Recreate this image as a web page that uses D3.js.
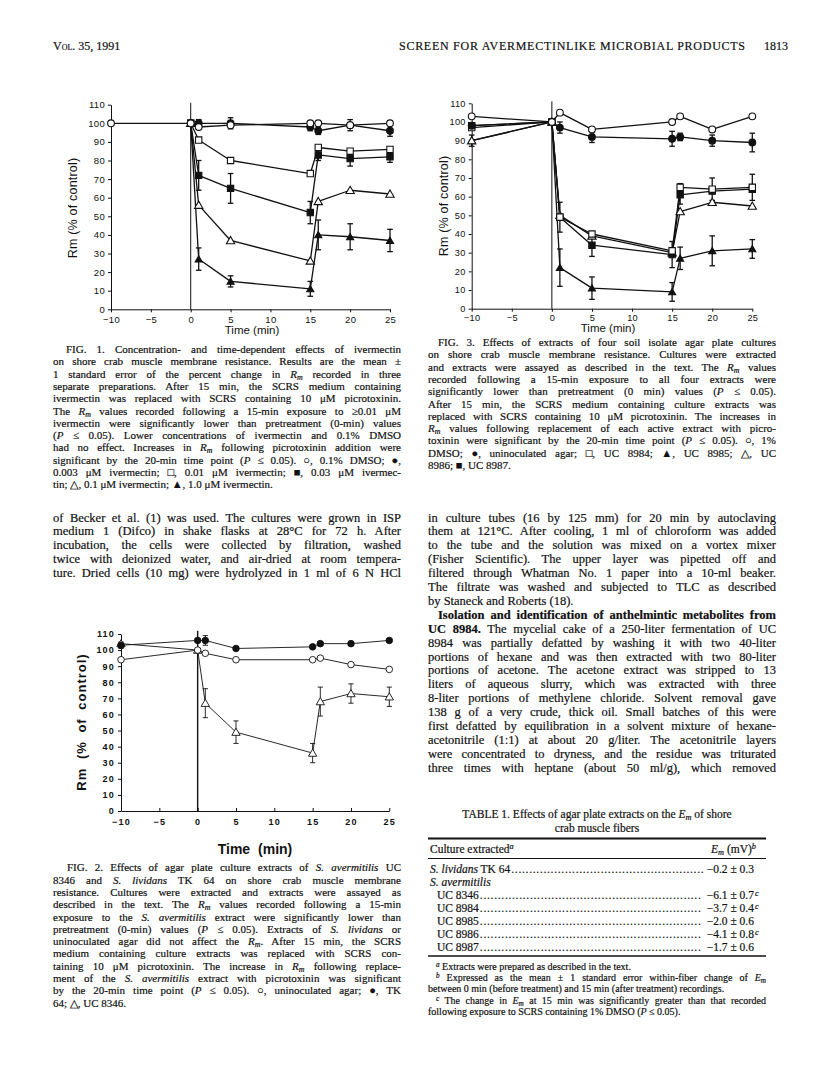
<!DOCTYPE html>
<html>
<head>
<meta charset="utf-8">
<script src="https://cdn.jsdelivr.net/npm/d3@7"></script>
<style>
body { margin: 0; background: #fff; }
#page { position: relative; width: 816px; height: 1081px; overflow: hidden; background: #fff; }
#page svg { position: absolute; left: 0; top: 0; }
.ln { position: absolute; white-space: nowrap; font-family: "Liberation Serif", "Times New Roman", serif;
      color: #111; -webkit-text-stroke: 0.2px #111; }
.hd { font-size: 12px; line-height: 14px; }
.cap { font-size: 11px; line-height: 12px; }
.bd { font-size: 12.5px; line-height: 13px; }
.tb { font-size: 11.5px; line-height: 12px; }
.fn { font-size: 10px; line-height: 11px; }
.ln sub { font-size: 0.72em; vertical-align: -0.25em; line-height: 0; }
.ln sup { font-size: 0.72em; vertical-align: 0.45em; line-height: 0; }
</style>
</head>
<body>
<div id="page"></div>
<script>
// time points (min) and axis ticks
var timeAll = [-10, 0, 1, 5, 15, 16, 20, 25];
var timeFrom0 = [0, 1, 5, 15, 16, 20, 25];
var xTicks = [-10, -5, 0, 5, 10, 15, 20, 25];
var yTicks = [0, 10, 20, 30, 40, 50, 60, 70, 80, 90, 100, 110];

// FIG. 1 - ivermectin, Rm (% of control)
var f1Dmso = [100, 100, 98, 99, 100, 100, 99, 100];
var f1DmsoErr = [0, 0, 0, 0, 0, 0, 3, 0];
var f1Iv0003 = [100, 100, 100, 98, 96, 99, 96];
var f1Iv0003Err = [0, 2, 3, 2, 2, 0, 3];
var f1Iv001 = [100, 91, 80, 73, 87, 85, 86];
var f1Iv003 = [100, 72, 65, 52, 83, 81, 82];
var f1Iv003Err = [0, 8, 8, 6, 3, 4, 3];
var f1Iv01 = [100, 56, 37, 26, 58, 64, 62];
var f1Iv1 = [100, 27, 15, 11, 40, 39, 37];
var f1Iv1Err = [0, 6, 3, 4, 8, 7, 6];

// FIG. 2 - S. avermitilis / S. lividans extracts
var f2Agar = [94, 100, 98, 94, 94, 95, 91, 88];
var f2Tk64 = [103, 106, 106, 101, 102, 104, 104, 106];
var f2Tk64Err = [2, 0, 3, 0, 0, 0, 0, 0];
var f2Uc8346 = [104, 100, 67, 49, 36, 68, 73, 71];
var f2Uc8346Err = [0, 0, 9, 7, 6, 9, 6, 6];

// FIG. 3 - soil isolate extracts
var f3Dmso = [103, 100, 105, 96, 100, 103, 96, 103];
var f3Agar = [98, 100, 97, 92, 91, 92, 90, 89];
var f3AgarErr = [0, 0, 3, 3, 4, 2, 3, 5];
var f3Uc8984 = [97, 100, 49, 40, 31, 65, 64, 65];
var f3Uc8984Err = [0, 0, 8, 0, 0, 2, 6, 7];
var f3Uc8987 = [98, 100, 49, 34, 29, 61, 63, 64];
var f3Uc8987Err = [0, 0, 0, 6, 7, 5, 0, 0];
var f3Uc8986 = [90, 100, 50, 39, 30, 52, 57, 55];
var f3Uc8985 = [90, 100, 22, 11, 9, 27, 31, 32];
var f3Uc8985Err = [3, 0, 10, 6, 5, 6, 8, 5];

// TABLE 1 - Em (mV)
var cultures = ["<i>S. lividans</i> TK 64", "<i>S. avermitilis</i>", "UC 8346", "UC 8984", "UC 8985", "UC 8986", "UC 8987"];
var emMean = [-0.2, null, -6.1, -3.7, -2.0, -4.1, -1.7];
var emSe = [0.3, null, 0.7, 0.4, 0.6, 0.8, 0.6];
var emSig = [false, false, true, true, false, true, false];

var RM = "<i>R<sub>m</sub></i>";
var EM = "<i>E<sub>m</sub></i>";

var page = d3.select("#page");
var svg = page.append("svg").attr("width", 816).attr("height", 1081);

// one line of text centred on y, optionally justified to width w
function line(x, y, w, html, cls, mode) {
  var d = page.append("div").attr("class", "ln " + cls).html(html)
      .style("left", x + "px");
  var node = d.node();
  var lh = parseFloat(getComputedStyle(node).lineHeight);
  d.style("top", (y - lh / 2) + "px");
  if (w) {
    var nat = node.getBoundingClientRect().width;
    if (mode === "letter") {
      var n = node.textContent.length - 1;
      d.style("letter-spacing", ((w - nat) / n) + "px");
    } else {
      var sp = (node.textContent.match(/ /g) || []).length;
      if (sp) d.style("word-spacing", ((w - nat) / sp) + "px");
    }
  }
  return d;
}
function widthOf(d) { return d.node().getBoundingClientRect().width; }

// block of lines, last line left ragged unless justifyLast
function block(x, y0, w, step, lines, cls, opts) {
  opts = opts || {};
  lines.forEach(function(l, i) {
    var last = i === lines.length - 1 && !opts.justifyLast;
    var ind = (i === 0 && opts.indent) ? opts.indent : 0;
    line(x + ind, y0 + i * step, last ? null : w - ind, l, cls);
  });
}

// Rm vs time chart
function rmChart(cfg, series) {
  var x = d3.scaleLinear().domain([-10, 25]).range([cfg.left, cfg.right]);
  var y = d3.scaleLinear().domain([0, 110]).range([cfg.bottom, cfg.top]);
  var g = svg.append("g");

  var xAxis = g.append("g")
      .attr("transform", "translate(0," + cfg.bottom + ")")
      .call(d3.axisBottom(x).tickValues(xTicks).tickSizeInner(cfg.xTick).tickSizeOuter(0)
        .tickPadding(cfg.xPad).tickFormat(function(d) { return d < 0 ? "\u2212" + (-d) : d; }));
  var yAxis = g.append("g")
      .attr("transform", "translate(" + cfg.left + ",0)")
      .call(d3.axisLeft(y).tickValues(yTicks).tickSizeInner(cfg.yTick).tickSizeOuter(0)
        .tickPadding(cfg.yPad));
  [xAxis, yAxis].forEach(function(a) {
    a.select(".domain").attr("stroke", "#111").attr("stroke-width", cfg.axisW);
    a.selectAll(".tick line").attr("stroke", "#111").attr("stroke-width", cfg.axisW);
    a.selectAll("text").attr("fill", "#111")
      .style("font-family", "'Liberation Sans', Arial, sans-serif")
      .style("font-size", cfg.tickFont + "px")
      .style("font-weight", cfg.bold ? "bold" : "normal")
      .style("letter-spacing", cfg.tickSpacing + "px");
  });

  // line at time 0
  g.append("line")
      .attr("x1", x(0)).attr("x2", x(0))
      .attr("y1", y(0)).attr("y2", y(cfg.zeroTop))
      .attr("stroke", "#111").attr("stroke-width", cfg.zeroW);

  // axis titles
  g.append("text")
      .attr("transform", "translate(" + cfg.yTitleX + "," + cfg.yTitleY + ") rotate(-90)")
      .attr("text-anchor", "middle").attr("dy", "0.35em")
      .style("font-family", "'Liberation Sans', Arial, sans-serif")
      .style("font-size", cfg.yTitleFont + "px")
      .style("font-weight", cfg.bold ? "bold" : "normal")
      .style("letter-spacing", cfg.titleSpacing + "px")
      .style("word-spacing", cfg.titleWord + "px")
      .attr("fill", "#111")
      .text("Rm (% of control)");
  g.append("text")
      .attr("x", cfg.xTitleX).attr("y", cfg.xTitleY)
      .attr("text-anchor", "middle").attr("dy", "0.35em")
      .style("font-family", "'Liberation Sans', Arial, sans-serif")
      .style("font-size", cfg.xTitleFont + "px")
      .style("font-weight", cfg.bold ? "bold" : "normal")
      .style("word-spacing", cfg.titleWord + "px")
      .attr("fill", "#111")
      .text("Time (min)");

  var pts = series.map(function(s) {
    return s.v.map(function(v, i) { return {t: s.t[i], v: v, e: s.e ? s.e[i] : 0}; });
  });

  var path = d3.line().x(function(d) { return x(d.t); }).y(function(d) { return y(d.v); });
  series.forEach(function(s, k) {
    g.append("path").datum(pts[k])
        .attr("fill", "none").attr("stroke", "#111")
        .attr("stroke-width", cfg.lineW).attr("stroke-linejoin", "round")
        .attr("d", path);
  });

  // error bars
  series.forEach(function(s, k) {
    var eb = g.append("g").selectAll("g")
        .data(pts[k].filter(function(d) { return d.e > 0; }))
        .enter().append("g");
    eb.append("line")
        .attr("x1", function(d) { return x(d.t); }).attr("x2", function(d) { return x(d.t); })
        .attr("y1", function(d) { return y(d.v - d.e); }).attr("y2", function(d) { return y(d.v + d.e); })
        .attr("stroke", "#111").attr("stroke-width", cfg.lineW);
    [-1, 1].forEach(function(sg) {
      eb.append("line")
          .attr("x1", function(d) { return x(d.t) - cfg.cap; }).attr("x2", function(d) { return x(d.t) + cfg.cap; })
          .attr("y1", function(d) { return y(d.v + sg * d.e); }).attr("y2", function(d) { return y(d.v + sg * d.e); })
          .attr("stroke", "#111").attr("stroke-width", cfg.lineW);
    });
  });

  // markers
  var shapes = {circle: d3.symbolCircle, square: d3.symbolSquare, triangle: d3.symbolTriangle};
  series.forEach(function(s, k) {
    var sz = cfg.size[s.shape + (s.filled ? "F" : "")] || cfg.size[s.shape];
    g.append("g").selectAll("path")
        .data(pts[k])
        .enter().append("path")
        .attr("transform", function(d) { return "translate(" + x(d.t) + "," + (y(d.v) + (s.shape === "triangle" ? 0.8 : 0)) + ")"; })
        .attr("d", d3.symbol().type(shapes[s.shape]).size(sz))
        .attr("fill", s.filled ? "#111" : "#fff")
        .attr("stroke", "#111").attr("stroke-width", cfg.markW);
  });
}

var baseCfg = {
  xTick: 3, xPad: 4, yTick: 3, yPad: 3, axisW: 1, tickFont: 9.5, tickSpacing: 0.3, bold: false,
  zeroTop: 111, zeroW: 1, yTitleFont: 12.5, xTitleFont: 11.5, titleSpacing: 0.2, titleWord: 0,
  lineW: 1.3, markW: 1.1, cap: 2.8,
  size: {circle: 36, square: 40, triangle: 30, triangleF: 22}
};

// FIG. 1
rmChart(Object.assign({}, baseCfg, {
  left: 111, right: 390, top: 104.7, bottom: 309.3,
  yTitleX: 73, yTitleY: 208, xTitleX: 252, xTitleY: 330
}), [
  {t: timeFrom0, v: f1Iv1, e: f1Iv1Err, shape: "triangle", filled: true},
  {t: timeFrom0, v: f1Iv01, shape: "triangle", filled: false},
  {t: timeFrom0, v: f1Iv003, e: f1Iv003Err, shape: "square", filled: true},
  {t: timeFrom0, v: f1Iv001, shape: "square", filled: false},
  {t: timeFrom0, v: f1Iv0003, e: f1Iv0003Err, shape: "circle", filled: true},
  {t: timeAll, v: f1Dmso, e: f1DmsoErr, shape: "circle", filled: false}
]);

// FIG. 3
rmChart(Object.assign({}, baseCfg, {
  left: 471.7, right: 752.3, top: 103.3, bottom: 308.7, xPad: 3, yPad: 3,
  yTitleX: 444, yTitleY: 206, xTitleX: 608, xTitleY: 328, tickFont: 9.2
}), [
  {t: timeAll, v: f3Uc8985, e: f3Uc8985Err, shape: "triangle", filled: true},
  {t: timeAll, v: f3Uc8986, shape: "triangle", filled: false},
  {t: timeAll, v: f3Uc8987, e: f3Uc8987Err, shape: "square", filled: true},
  {t: timeAll, v: f3Uc8984, e: f3Uc8984Err, shape: "square", filled: false},
  {t: timeAll, v: f3Agar, e: f3AgarErr, shape: "circle", filled: true},
  {t: timeAll, v: f3Dmso, shape: "circle", filled: false}
]);

// FIG. 2
rmChart(Object.assign({}, baseCfg, {
  left: 121, right: 389.3, top: 634, bottom: 811,
  xTick: -3, xPad: 7.5, yTick: 3, yPad: 3, tickFont: 9, tickSpacing: 1.2, bold: true,
  zeroTop: 112, zeroW: 1.4, yTitleFont: 13, xTitleFont: 14, titleSpacing: 1, titleWord: 4,
  yTitleX: 81, yTitleY: 722, xTitleX: 255, xTitleY: 849,
  lineW: 0.9, markW: 0.9, cap: 2.6,
  size: {circle: 34, square: 36, triangle: 30}
}), [
  {t: timeAll, v: f2Uc8346, e: f2Uc8346Err, shape: "triangle", filled: false},
  {t: timeAll, v: f2Tk64, e: f2Tk64Err, shape: "circle", filled: true},
  {t: timeAll, v: f2Agar, shape: "circle", filled: false}
]);

// running head
line(53, 46, null, "<span style='font-variant:small-caps'>Vol.</span> 35, 1991", "hd");
line(399, 46, 346, "SCREEN FOR AVERMECTINLIKE MICROBIAL PRODUCTS", "hd", "letter");
line(764, 46, null, "1813", "hd");

var L0 = 53, LW = 348, R0 = 428, RW = 348, CAP = 12.3, BODY = 13.9;

block(L0, 349, LW, CAP, [
  "FIG. 1. Concentration- and time-dependent effects of ivermectin",
  "on shore crab muscle membrane resistance. Results are the mean \u00b1",
  "1 standard error of the percent change in " + RM + " recorded in three",
  "separate preparations. After 15 min, the SCRS medium containing",
  "ivermectin was replaced with SCRS containing 10 \u03bcM picrotoxinin.",
  "The " + RM + " values recorded following a 15-min exposure to \u22650.01 \u03bcM",
  "ivermectin were significantly lower than pretreatment (0-min) values",
  "(<i>P</i> \u2264 0.05). Lower concentrations of ivermectin and 0.1% DMSO",
  "had no effect. Increases in " + RM + " following picrotoxinin addition were",
  "significant by the 20-min time point (<i>P</i> \u2264 0.05). \u25cb, 0.1% DMSO; \u25cf,",
  "0.003 \u03bcM ivermectin; \u25a1, 0.01 \u03bcM ivermectin; \u25a0, 0.03 \u03bcM ivermec-",
  "tin; \u25b3, 0.1 \u03bcM ivermectin; \u25b2, 1.0 \u03bcM ivermectin."
], "cap", {indent: 13});

block(R0, 342, RW, CAP, [
  "FIG. 3. Effects of extracts of four soil isolate agar plate cultures",
  "on shore crab muscle membrane resistance. Cultures were extracted",
  "and extracts were assayed as described in the text. The " + RM + " values",
  "recorded following a 15-min exposure to all four extracts were",
  "significantly lower than pretreatment (0 min) values (<i>P</i> \u2264 0.05).",
  "After 15 min, the SCRS medium containing culture extracts was",
  "replaced with SCRS containing 10 \u03bcM picrotoxinin. The increases in",
  RM + " values following replacement of each active extract with picro-",
  "toxinin were significant by the 20-min time point (<i>P</i> \u2264 0.05). \u25cb, 1%",
  "DMSO; \u25cf, uninoculated agar; \u25a1, UC 8984; \u25b2, UC 8985; \u25b3, UC",
  "8986; \u25a0, UC 8987."
], "cap", {indent: 10});

block(L0, 518, LW, BODY, [
  "of Becker et al. (1) was used. The cultures were grown in ISP",
  "medium 1 (Difco) in shake flasks at 28\u00b0C for 72 h. After",
  "incubation, the cells were collected by filtration, washed",
  "twice with deionized water, and air-dried at room tempera-",
  "ture. Dried cells (10 mg) were hydrolyzed in 1 ml of 6 N HCl"
], "bd", {justifyLast: true});

var rightBody = [
  "in culture tubes (16 by 125 mm) for 20 min by autoclaving",
  "them at 121\u00b0C. After cooling, 1 ml of chloroform was added",
  "to the tube and the solution was mixed on a vortex mixer",
  "(Fisher Scientific). The upper layer was pipetted off and",
  "filtered through Whatman No. 1 paper into a 10-ml beaker.",
  "The filtrate was washed and subjected to TLC as described",
  "by Staneck and Roberts (18).",
  "<b>Isolation and identification of anthelmintic metabolites from</b>",
  "<b>UC 8984.</b> The mycelial cake of a 250-liter fermentation of UC",
  "8984 was partially defatted by washing it with two 40-liter",
  "portions of hexane and was then extracted with two 80-liter",
  "portions of acetone. The acetone extract was stripped to 13",
  "liters of aqueous slurry, which was extracted with three",
  "8-liter portions of methylene chloride. Solvent removal gave",
  "138 g of a very crude, thick oil. Small batches of this were",
  "first defatted by equilibration in a solvent mixture of hexane-",
  "acetonitrile (1:1) at about 20 g/liter. The acetonitrile layers",
  "were concentrated to dryness, and the residue was triturated",
  "three times with heptane (about 50 ml/g), which removed"
];
rightBody.forEach(function(l, i) {
  var ind = i === 7 ? 10 : 0;
  line(R0 + ind, 518 + i * BODY, i === 6 ? null : RW - ind, l, "bd");
});

block(L0, 867.3, LW, CAP, [
  "FIG. 2. Effects of agar plate culture extracts of <i>S. avermitilis</i> UC",
  "8346 and <i>S. lividans</i> TK 64 on shore crab muscle membrane",
  "resistance. Cultures were extracted and extracts were assayed as",
  "described in the text. The " + RM + " values recorded following a 15-min",
  "exposure to the <i>S. avermitilis</i> extract were significantly lower than",
  "pretreatment (0-min) values (<i>P</i> \u2264 0.05). Extracts of <i>S. lividans</i> or",
  "uninoculated agar did not affect the " + RM + ". After 15 min, the SCRS",
  "medium containing culture extracts was replaced with SCRS con-",
  "taining 10 \u03bcM picrotoxinin. The increase in " + RM + " following replace-",
  "ment of the <i>S. avermitilis</i> extract with picrotoxinin was significant",
  "by the 20-min time point (<i>P</i> \u2264 0.05). \u25cb, uninoculated agar; \u25cf, TK",
  "64; \u25b3, UC 8346."
], "cap", {indent: 14});

// TABLE 1
var T0 = 428, T1 = 766, TC = (T0 + T1) / 2;
[["TABLE 1. Effects of agar plate extracts on the " + EM + " of shore", 814],
 ["crab muscle fibers", 827.5]].forEach(function(t) {
  var d = line(0, t[1], null, t[0], "tb");
  d.style("left", (TC - widthOf(d) / 2) + "px");
});
svg.append("line").attr("x1", T0).attr("x2", T1).attr("y1", 838.5).attr("y2", 838.5)
    .attr("stroke", "#111").attr("stroke-width", 1.8);
line(T0 + 2, 849, null, "Culture extracted<sup><i>a</i></sup>", "tb");
var hdr = line(0, 849, null, EM + " (mV)<sup><i>b</i></sup>", "tb");
hdr.style("left", (T1 - 10 - widthOf(hdr)) + "px");
svg.append("line").attr("x1", T0).attr("x2", T1).attr("y1", 858.5).attr("y2", 858.5)
    .attr("stroke", "#111").attr("stroke-width", 1);

var rowY = d3.scaleLinear().domain([0, 6]).range([869, 947]);
cultures.forEach(function(c, i) {
  var ind = i >= 2 ? 9 : 2;
  var lab = line(T0 + ind, rowY(i), null, c, "tb");
  if (emMean[i] === null) return;
  var val = "\u2212" + Math.abs(emMean[i]).toFixed(1) + " \u00b1 " + emSe[i].toFixed(1);
  var vd = line(0, rowY(i), null, val, "tb");
  var vx = T1 - 12 - widthOf(vd);
  vd.style("left", vx + "px");
  if (emSig[i]) line(T1 - 11, rowY(i) - 3, null, "<i style='font-size:8px'>c</i>", "fn");
  // dot leader
  var lx = T0 + ind + widthOf(lab) + 1;
  var dots = line(lx, rowY(i), null, ".", "tb").style("letter-spacing", "0.7px");
  var dw = widthOf(dots);
  var n = Math.max(0, Math.floor((vx - lx - 2) / dw));
  dots.text(d3.range(n).map(function() { return "."; }).join(""));
});
svg.append("line").attr("x1", T0).attr("x2", T1).attr("y1", 956).attr("y2", 956)
    .attr("stroke", "#111").attr("stroke-width", 1.6);

var FN = 11.4, F0 = 966;
line(T0 + 8, F0, null, "<sup><i>a</i></sup> Extracts were prepared as described in the text.", "fn");
line(T0 + 8, F0 + FN, T1 - T0 - 8, "<sup><i>b</i></sup> Expressed as the mean \u00b1 1 standard error within-fiber change of " + EM, "fn");
line(T0, F0 + 2 * FN, null, "between 0 min (before treatment) and 15 min (after treatment) recordings.", "fn");
line(T0 + 8, F0 + 3 * FN, T1 - T0 - 8, "<sup><i>c</i></sup> The change in " + EM + " at 15 min was significantly greater than that recorded", "fn");
line(T0, F0 + 4 * FN, null, "following exposure to SCRS containing 1% DMSO (<i>P</i> \u2264 0.05).", "fn");
</script>
</body>
</html>
